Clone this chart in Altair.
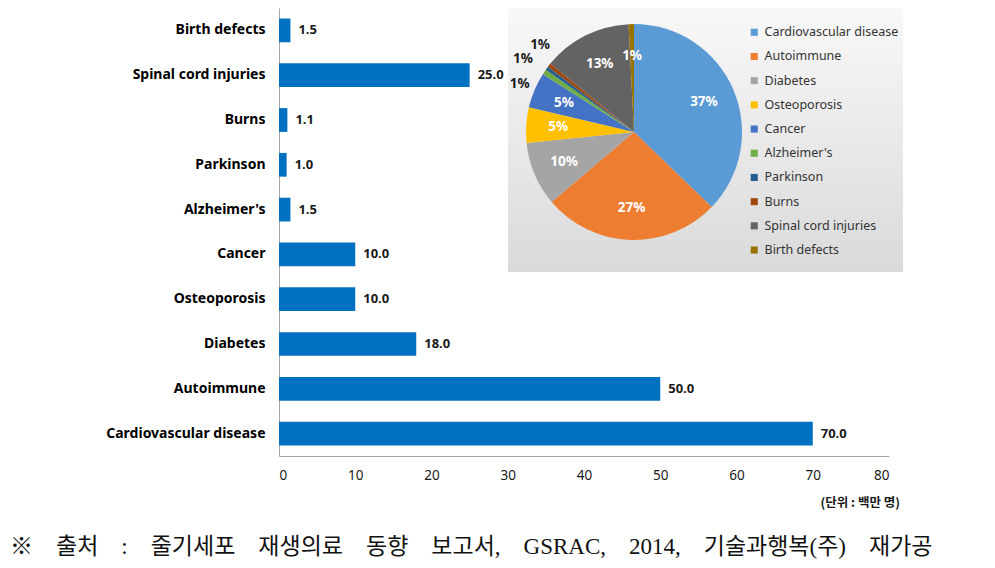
import altair as alt
import pandas as pd

# ---- data ----
categories = ["Birth defects", "Spinal cord injuries", "Burns", "Parkinson", "Alzheimer's",
              "Cancer", "Osteoporosis", "Diabetes", "Autoimmune", "Cardiovascular disease"]
values = [1.5, 25.0, 1.1, 1.0, 1.5, 10.0, 10.0, 18.0, 50.0, 70.0]

pie_order = ["Cardiovascular disease", "Autoimmune", "Diabetes", "Osteoporosis", "Cancer",
             "Alzheimer's", "Parkinson", "Burns", "Spinal cord injuries", "Birth defects"]
pie_colors = ["#5B9BD5", "#ED7D31", "#A5A5A5", "#FFC000", "#4472C4",
              "#70AD47", "#255E91", "#9E480E", "#636363", "#997300"]
outside_labels = ["Alzheimer's", "Parkinson", "Burns"]

x_ticks = [0, 10, 20, 30, 40, 50, 60, 70, 80]
unit_text = ["(단위 : 백만 명)"]
GAP = "\u3000"
source_words = ["※", "출처", ":", "줄기세포", "재생의료", "동향", "보고서,", "GSRAC,", "2014,",
                "기술과행복(주)", "재가공"]
source_text = [GAP.join(source_words)]

bar_df = pd.DataFrame({"category": categories, "value": values})
val_map = dict(zip(categories, values))
pie_df = pd.DataFrame({
    "category": pie_order,
    "value": [val_map[c] for c in pie_order],
    "idx": list(range(len(pie_order))),
})

FONT = "Noto Sans"
CX, CY, R = 355, 124, 108

# ---- background panel for the pie ----
panel = alt.Chart(pd.DataFrame({"a": [0]})).mark_rect(
    color=alt.LinearGradient(
        gradient="linear",
        stops=[alt.GradientStop(color="#f8f8f8", offset=0),
               alt.GradientStop(color="#dadada", offset=1)],
        x1=0, x2=0, y1=0, y2=1),
).encode(x=alt.value(229), x2=alt.value(624), y=alt.value(0), y2=alt.value(264))

# ---- bars ----
base = alt.Chart(bar_df)
bars = base.mark_bar(color="#0070C0").encode(
    x=alt.X("value:Q", scale=alt.Scale(domain=[0, 80]),
            axis=alt.Axis(values=x_ticks, title=None, grid=False, ticks=False,
                          labelPadding=12, labelFontSize=13.5, labelColor="#1a1a1a",
                          labelFont=FONT, domainColor="#a6a6a6")),
    y=alt.Y("category:N", sort=categories,
            scale=alt.Scale(paddingInner=0.47, paddingOuter=0.235),
            axis=alt.Axis(title=None, ticks=False, labelPadding=14, labelFontSize=14,
                          labelFontWeight="bold", labelColor="#000000", labelFont=FONT,
                          domainColor="#a6a6a6")),
)
bar_text = base.mark_text(align="left", baseline="middle", dx=8, fontSize=13,
                          fontWeight="bold", font=FONT, color="#1a1a1a").encode(
    x="value:Q",
    y=alt.Y("category:N", sort=categories),
    text=alt.Text("value:Q", format=".1f"),
)

# ---- pie ----
pie_base = alt.Chart(pie_df).transform_joinaggregate(
    total="sum(value)"
).transform_calculate(
    pct="format(datum.value / datum.total * 100, '.0f') + '%'"
)
arcs = pie_base.mark_arc(radius=R).encode(
    theta=alt.Theta("value:Q", stack=True),
    order=alt.Order("idx:Q"),
    color=alt.Color("category:N", scale=alt.Scale(domain=pie_order, range=pie_colors),
                    legend=alt.Legend(orient="none", legendX=469, legendY=18, title=None,
                                      symbolType="square", symbolSize=50, symbolStrokeWidth=0,
                                      labelFontSize=12.5, labelColor="#333333", labelFont=FONT,
                                      rowPadding=11.2, labelOffset=4, padding=0)),
    x=alt.value(CX), y=alt.value(CY),
)

inside_expr = "indexof(" + str(outside_labels) + ", datum.category) < 0 ? datum.pct : ''"
inside = pie_base.transform_calculate(lab=inside_expr).mark_text(
    radius=76, fontSize=13.5, fontWeight="bold", font=FONT, color="white"
).encode(
    theta=alt.Theta("value:Q", stack=True), order=alt.Order("idx:Q"),
    text="lab:N", x=alt.value(CX), y=alt.value(CY),
)


def outside(name, off, rad):
    return pie_base.transform_calculate(
        lab=f"datum.category == \"{name}\" ? datum.pct : ''"
    ).mark_text(radius=rad, thetaOffset=off, fontSize=13.5, fontWeight="bold",
                font=FONT, color="#1a1a1a").encode(
        theta=alt.Theta("value:Q", stack=True), order=alt.Order("idx:Q"),
        text="lab:N", x=alt.value(CX), y=alt.value(CY),
    )


out1 = outside("Alzheimer's", -0.19, 124)
out2 = outside("Parkinson", -0.05, 133)
out3 = outside("Burns", 0.08, 128)

# ---- annotations ----
unit = alt.Chart(pd.DataFrame({"t": unit_text})).mark_text(
    align="right", baseline="middle", fontSize=12.5, fontWeight="bold",
    font="Noto Sans CJK KR", color="#1a1a1a"
).encode(text="t:N", x=alt.value(621), y=alt.value(495))

source = alt.Chart(pd.DataFrame({"t": source_text})).mark_text(
    align="left", baseline="middle", fontSize=23,
    font="Liberation Serif, Noto Sans CJK KR", color="#111111"
).encode(text="t:N", x=alt.value(-269), y=alt.value(539))

chart = alt.layer(
    panel, bars, bar_text, arcs, inside, out1, out2, out3, unit, source
).properties(
    width=610, height=448,
    padding={"left": 271, "top": 0, "right": 90, "bottom": 110},
    autosize=alt.AutoSizeParams(type="none"),
).configure_view(stroke=None)

chart.save("out.html", embed_options={"renderer": "svg", "actions": False})
